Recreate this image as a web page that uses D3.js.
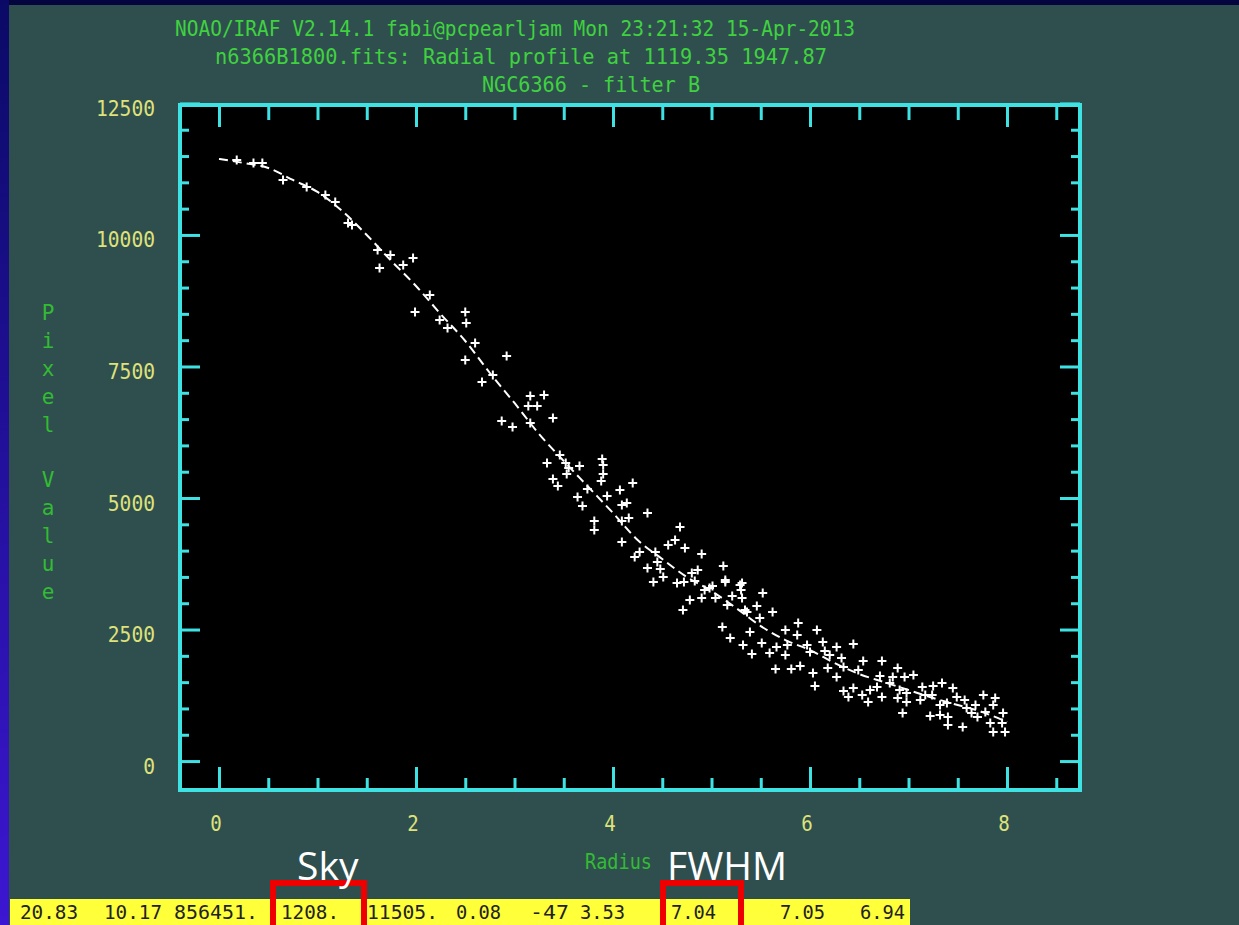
<!DOCTYPE html>
<html>
<head>
<meta charset="utf-8">
<script src="https://cdn.jsdelivr.net/npm/d3@7"></script>
<style>
  body { margin: 0; background: #2f4f4f; overflow: hidden; }
</style>
</head>
<body>
<svg id="chart"></svg>
<script>
// --- data ---
const titleLines = [
  "NOAO/IRAF V2.14.1 fabi@pcpearljam Mon 23:21:32 15-Apr-2013",
  "n6366B1800.fits: Radial profile at 1119.35 1947.87",
  "NGC6366 - filter B"
];
const xLabel = "Radius";
const yLabel = "Pixel Value";
const xTicks = [0, 2, 4, 6, 8];
const yTicks = [0, 2500, 5000, 7500, 10000, 12500];

// measured pixels (radius, value)
const radius = [
  0.18, 0.35, 0.44, 0.65, 0.89, 1.08, 1.18, 1.35, 1.31, 1.61, 1.74, 1.63, 1.87, 1.97, 2.14, 1.99,
  2.24, 2.32, 2.50, 2.51, 2.60, 2.50, 2.67, 2.78, 2.92, 3.16, 3.30, 3.14, 3.23, 2.87, 2.98, 3.16,
  3.39, 3.89, 3.90, 3.33, 3.52, 3.55, 3.53, 3.90, 3.88, 3.39, 3.44, 4.20, 3.74, 3.94, 3.64, 3.69,
  4.09, 4.14, 4.35, 4.09, 4.16, 3.81, 3.81, 4.09, 4.22, 4.43, 4.68, 4.63, 4.56, 4.73, 4.90, 4.35,
  4.48, 4.51, 4.41, 4.65, 4.72, 4.86, 4.83, 5.12, 5.14, 4.98, 5.04, 5.31, 5.30, 5.31, 4.78, 4.90,
  4.71, 5.16, 5.34, 5.11, 5.01, 5.14, 5.29, 5.52, 5.46, 5.62, 5.36, 5.39, 5.19, 5.32, 5.41, 5.51,
  5.59, 5.66, 5.77, 5.75, 5.88, 5.87, 6.07, 6.13, 5.97, 6.00, 6.15, 6.27, 6.44, 5.65, 5.81, 5.90,
  6.05, 6.03, 6.18, 6.34, 6.32, 6.27, 6.54, 6.73, 6.71, 6.89, 6.84, 6.96, 7.05, 6.34, 6.44, 6.39,
  6.53, 6.59, 6.61, 6.73, 6.68, 6.91, 6.98, 6.89, 6.98, 7.12, 7.24, 7.14, 7.25, 7.34, 7.45, 7.49,
  7.32, 7.39, 6.94, 7.22, 7.32, 7.40, 7.40, 7.55, 7.59, 7.64, 7.70, 7.76, 7.68, 7.86, 7.88, 7.96,
  7.83, 7.95, 7.86, 7.98, 4.27, 4.45, 4.80, 4.93, 5.21, 5.49, 5.75, 6.20, 6.49, 6.81, 7.17, 7.57,
  7.78, 3.66, 4.07, 3.46
];
const pixelValue = [
  11425, 11368, 11368, 11045, 10912, 10760, 10627, 10189, 10227, 9714, 9619, 9372, 9429, 9562, 8859, 8535,
  8383, 8231, 8535, 8326, 7946, 7623, 7205, 7338, 7699, 6939, 6958, 6749, 6749, 6463, 6349, 6425,
  6520, 5741, 5627, 5665, 5665, 5570, 5456, 5456, 5323, 5361, 5228, 5285, 5171, 5038, 5019, 4848,
  4867, 4905, 4714, 4562, 4619, 4562, 4391, 4163, 3878, 3973, 4448, 4201, 4106, 4049, 3935, 3669,
  3650, 3498, 3403, 3384, 3403, 3631, 3422, 3707, 3403, 3289, 3099, 3384, 3251, 3099, 3061, 3099,
  2871, 2966, 2871, 2547, 3327, 3441, 3346, 3194, 2947, 2832, 2832, 2452, 2338, 2205, 2034, 2243,
  2053, 2167, 2205, 2015, 2623, 2395, 2490, 2262, 2205, 2072, 2091, 2167, 2224, 1749, 1749, 1806,
  1426, 1673, 1768, 1787, 1958, 1597, 1901, 1901, 1616, 1768, 1597, 1597, 1635, 1331, 1388, 1217,
  1255, 1122, 1350, 1217, 1407, 1350, 1293, 1198, 1122, 1160, 1255, 1407, 1426, 1483, 1388, 1217,
  1065, 1103, 912, 855, 874, 836, 684, 646, 1008, 912, 836, 1255, 1065, 1065, 1198, 912,
  722, 722, 551, 551, 3973, 3783, 3574, 3251, 3137, 2718, 2490, 2015, 1730, 1483, 1255, 1160,
  931, 5608, 5152, 5817
];

// fitted profile (dashed curve)
const fitRadius = [0, 0.25, 0.5, 0.75, 1, 1.25, 1.5, 1.75, 2, 2.25, 2.5, 2.75, 3, 3.25, 3.5, 3.75,
  4, 4.25, 4.5, 4.75, 5, 5.25, 5.5, 5.75, 6, 6.25, 6.5, 6.75, 7, 7.25, 7.5, 7.75, 8];
const fitValue = [11444, 11368, 11273, 11045, 10817, 10456, 9999, 9505, 9030, 8497, 7984, 7376, 6806,
  6216, 5703, 5209, 4715, 4201, 3840, 3498, 3232, 2909, 2566, 2300, 2110, 1863, 1654, 1502, 1350,
  1198, 1065, 931, 741];

// status line under the plot
const statusValues = ["20.83", "10.17", "856451.", "1208.", "11505.", "0.08", "-47", "3.53", "7.04", "7.05", "6.94"];
const statusX = [20, 104, 174, 281, 367, 456, 530, 580, 671, 780, 860];
const callouts = [{label: "Sky", index: 3, dx: 16}, {label: "FWHM", index: 8, dx: -4}];

// --- layout ---
const width = 1239, height = 925;
const frame = {left: 180, right: 1080, top: 105, bottom: 790};
const cyan = "#3fe2e2";
const mono = "'DejaVu Sans Mono', 'Liberation Mono', monospace";

const svg = d3.select('#chart').attr('width', width).attr('height', height);

const bgGrad = svg.append('defs').append('linearGradient')
  .attr('id', 'edge').attr('x1', 0).attr('y1', 0).attr('x2', 0).attr('y2', 1);
bgGrad.append('stop').attr('offset', '0%').attr('stop-color', '#0a0a66');
bgGrad.append('stop').attr('offset', '100%').attr('stop-color', '#3c16d2');

svg.append('rect').attr('width', width).attr('height', height).attr('fill', '#2f4f4f');
svg.append('rect').attr('width', width).attr('height', 5).attr('fill', '#04043f');
svg.append('rect').attr('width', 9).attr('height', height).attr('fill', 'url(#edge)');

const x = d3.scaleLinear().domain([-0.396, 8.741]).range([frame.left, frame.right]);
const y = d3.scaleLinear().domain([-550, 12470]).range([frame.bottom, frame.top]);

// plot area
svg.append('rect')
  .attr('x', frame.left).attr('y', frame.top)
  .attr('width', frame.right - frame.left).attr('height', frame.bottom - frame.top)
  .attr('fill', '#000');

const xMinor = d3.range(0.5, 8.6, 0.5).filter(v => v % 2 !== 0);
const yMinor = d3.range(500, 12500, 500).filter(v => v % 2500 !== 0);

function ticks(axis, values, size, pos) {
  const g = svg.append('g').attr('transform', pos)
    .call(axis.tickValues(values).tickSize(size).tickFormat(''));
  g.select('.domain').remove();
  g.selectAll('line').attr('stroke', cyan).attr('stroke-width', 3);
}
ticks(d3.axisBottom(x), xTicks, -23, `translate(0,${frame.bottom})`);
ticks(d3.axisBottom(x), xMinor, -12, `translate(0,${frame.bottom})`);
ticks(d3.axisTop(x), xTicks, -22, `translate(0,${frame.top})`);
ticks(d3.axisTop(x), xMinor, -15, `translate(0,${frame.top})`);
ticks(d3.axisLeft(y), yTicks, -20, `translate(${frame.left},0)`);
ticks(d3.axisLeft(y), yMinor, -9, `translate(${frame.left},0)`);
ticks(d3.axisRight(y), yTicks, -20, `translate(${frame.right},0)`);
ticks(d3.axisRight(y), yMinor, -9, `translate(${frame.right},0)`);

svg.append('rect')
  .attr('x', frame.left).attr('y', frame.top)
  .attr('width', frame.right - frame.left).attr('height', frame.bottom - frame.top)
  .attr('fill', 'none').attr('stroke', cyan).attr('stroke-width', 4);

// fit curve
const line = d3.line().x(d => x(d[0])).y(d => y(d[1])).curve(d3.curveMonotoneX);
svg.append('path')
  .datum(fitRadius.map((r, i) => [r, fitValue[i]]))
  .attr('d', line)
  .attr('fill', 'none').attr('stroke', '#fff').attr('stroke-width', 2)
  .attr('stroke-dasharray', '9,5');

// data points as plus markers
svg.append('g').selectAll('path')
  .data(radius.map((r, i) => [r, pixelValue[i]]))
  .join('path')
  .attr('transform', d => `translate(${x(d[0])},${y(d[1])})`)
  .attr('d', 'M-4.5,0H4.5M0,-4.5V4.5')
  .attr('stroke', '#fff').attr('stroke-width', 2);

// tick labels
const tickColor = '#dfe27a';
svg.append('g').selectAll('text').data(xTicks).join('text')
  .attr('x', d => x(d) - 3).attr('y', 823)
  .attr('text-anchor', 'middle').attr('dominant-baseline', 'central')
  .attr('font-family', mono).attr('font-size', 22).attr('fill', tickColor)
  .attr('textLength', d => String(d).length * 11.5).attr('lengthAdjust', 'spacingAndGlyphs')
  .text(d => d);
svg.append('g').selectAll('text').data(yTicks).join('text')
  .attr('x', 155).attr('y', d => y(d) + 5)
  .attr('text-anchor', 'end').attr('dominant-baseline', 'central')
  .attr('font-family', mono).attr('font-size', 22).attr('fill', tickColor)
  .attr('textLength', d => String(d).length * 11.8).attr('lengthAdjust', 'spacingAndGlyphs')
  .text(d => d);

// titles
const green = '#3fd23f';
const titleX = [175, 215, 482], titleY = [28, 56, 84], titleLen = [680, 612, 218];
svg.append('g').selectAll('text').data(titleLines).join('text')
  .attr('x', (d, i) => titleX[i]).attr('y', (d, i) => titleY[i])
  .attr('dominant-baseline', 'central')
  .attr('font-family', mono).attr('font-size', 22).attr('fill', green)
  .attr('textLength', (d, i) => titleLen[i]).attr('lengthAdjust', 'spacingAndGlyphs')
  .text(d => d);

svg.append('text')
  .attr('x', 585).attr('y', 862).attr('dominant-baseline', 'central')
  .attr('font-family', mono).attr('font-size', 21).attr('fill', '#33bb33')
  .attr('textLength', 67).attr('lengthAdjust', 'spacingAndGlyphs')
  .text(xLabel);

svg.append('g').selectAll('text').data(yLabel.split('')).join('text')
  .attr('x', 48).attr('y', (d, i) => 313 + i * 27.9)
  .attr('text-anchor', 'middle').attr('dominant-baseline', 'central')
  .attr('font-family', mono).attr('font-size', 21).attr('fill', '#33bb33')
  .text(d => d);

// status bar
const textWidth = s => s.split('').reduce((w, ch) => w + (ch === '.' ? 6 : 13), 0);
svg.append('rect').attr('x', 10).attr('y', 899).attr('width', 900).attr('height', 26).attr('fill', '#ffff3a');
svg.append('g').selectAll('text').data(statusValues).join('text')
  .attr('x', (d, i) => statusX[i]).attr('y', 912)
  .attr('dominant-baseline', 'central')
  .attr('font-family', mono).attr('font-size', 20).attr('fill', '#222')
  .attr('textLength', d => textWidth(d)).attr('lengthAdjust', 'spacingAndGlyphs')
  .text(d => d);

// red callout boxes around Sky and FWHM values
callouts.forEach(c => {
  const x0 = statusX[c.index] - 11;
  const x1 = statusX[c.index] + textWidth(statusValues[c.index]) + 28;
  svg.append('rect')
    .attr('x', x0 + 3).attr('y', 883).attr('width', x1 - x0 - 6).attr('height', 50)
    .attr('fill', 'none').attr('stroke', '#ee0000').attr('stroke-width', 6);
  svg.append('text')
    .attr('x', statusX[c.index] + c.dx).attr('y', 880)
    .attr('font-family', "'Open Sans', 'Liberation Sans', sans-serif").attr('font-size', 39)
    .attr('fill', '#fff')
    .text(c.label);
});
</script>
</body>
</html>
